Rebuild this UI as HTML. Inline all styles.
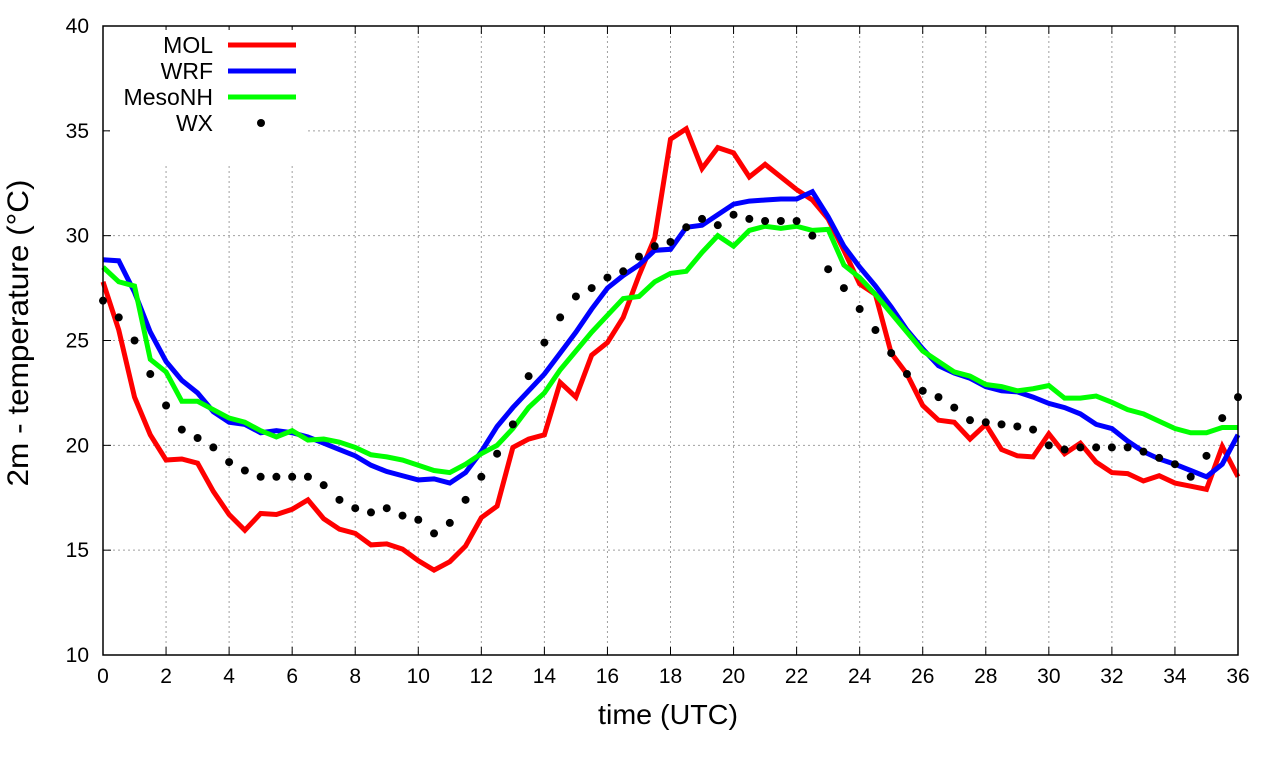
<!DOCTYPE html>
<html><head><meta charset="utf-8"><style>
body{margin:0;background:#fff;}
svg text{font-family:"Liberation Sans",sans-serif;fill:#000;}
</style></head><body>
<svg id="c" width="1280" height="760"></svg>
<script>
const mol=[27.8,25.5,22.3,20.5,19.3,19.35,19.15,17.8,16.7,15.95,16.75,16.7,16.95,17.4,16.5,16,15.8,15.25,15.3,15.05,14.5,14.05,14.45,15.2,16.55,17.1,19.9,20.3,20.5,23,22.3,24.3,24.9,26.1,28.1,29.9,34.6,35.1,33.2,34.2,33.95,32.8,33.4,32.8,32.2,31.7,30.8,29.3,27.7,27.2,24.4,23.4,21.9,21.2,21.1,20.3,21,19.8,19.5,19.45,20.55,19.6,20.1,19.2,18.7,18.65,18.3,18.55,18.2,18.05,17.9,19.95,18.5];
const wrf=[28.85,28.8,27.3,25.4,24,23.1,22.5,21.6,21.1,21.0,20.6,20.7,20.6,20.4,20.1,19.8,19.5,19.05,18.75,18.55,18.35,18.4,18.2,18.7,19.7,20.9,21.8,22.6,23.4,24.4,25.4,26.5,27.5,28.1,28.6,29.3,29.35,30.4,30.5,31,31.5,31.65,31.7,31.75,31.75,32.1,30.9,29.5,28.5,27.6,26.6,25.5,24.6,23.8,23.45,23.2,22.8,22.6,22.55,22.3,22,21.8,21.5,21,20.8,20.2,19.7,19.35,19.1,18.8,18.5,19.1,20.5];
const meso=[28.5,27.8,27.6,24.1,23.5,22.1,22.1,21.7,21.3,21.1,20.7,20.4,20.7,20.25,20.3,20.15,19.9,19.55,19.45,19.3,19.05,18.8,18.7,19.1,19.6,20,20.8,21.8,22.5,23.6,24.5,25.4,26.2,27,27.1,27.8,28.2,28.3,29.2,30,29.5,30.25,30.45,30.35,30.45,30.25,30.3,28.6,28,27.2,26.3,25.4,24.5,24,23.5,23.3,22.9,22.8,22.6,22.7,22.85,22.25,22.25,22.35,22.05,21.7,21.5,21.15,20.8,20.6,20.6,20.85,20.85];
const wx=[26.9,26.1,25,23.4,21.9,20.75,20.35,19.9,19.2,18.8,18.5,18.5,18.5,18.5,18.1,17.4,17,16.8,17,16.65,16.45,15.8,16.3,17.4,18.5,19.6,21,23.3,24.9,26.1,27.1,27.5,28,28.3,29,29.5,29.7,30.4,30.8,30.5,31,30.8,30.7,30.7,30.7,30,28.4,27.5,26.5,25.5,24.4,23.4,22.6,22.3,21.8,21.2,21.1,21,20.9,20.75,20,19.8,19.9,19.9,19.9,19.9,19.7,19.4,19.1,18.5,19.5,21.3,22.3];
const xTicks=[0,2,4,6,8,10,12,14,16,18,20,22,24,26,28,30,32,34,36];
const yTicks=[10,15,20,25,30,35,40];
const X0=103,X1=1238,Y0=655,Y1=26;
const xs=t=>X0+(X1-X0)*t/36, ys=v=>Y0-(Y0-Y1)*(v-10)/30;
const NS='http://www.w3.org/2000/svg', svg=document.getElementById('c');
function mk(tag,a,parent){const e=document.createElementNS(NS,tag);for(const k in a)e.setAttribute(k,a[k]);(parent||svg).appendChild(e);return e;}
const grid=mk('g',{});


xTicks.forEach(t=>{const x=xs(t);
 if(t>0&&t<36)mk('line',{x1:x,x2:x,y1:Y1,y2:Y0,stroke:'#a0a0a0','stroke-dasharray':'2,3'},grid);
 mk('line',{x1:x,x2:x,y1:Y0,y2:Y0-8,stroke:'#000'});mk('line',{x1:x,x2:x,y1:Y1,y2:Y1+8,stroke:'#000'});
 const tx=mk('text',{x:x,y:Y0+28,'text-anchor':'middle','font-size':'21'});tx.textContent=t;
 
 });
yTicks.forEach(v=>{const y=ys(v);
 if(v>10&&v<40)mk('line',{x1:X0,x2:X1,y1:y,y2:y,stroke:'#a0a0a0','stroke-dasharray':'2,3'},grid);
 mk('line',{x1:X0,x2:X0+8,y1:y,y2:y,stroke:'#000'});mk('line',{x1:X1,x2:X1-8,y1:y,y2:y,stroke:'#000'});
 const tx=mk('text',{x:X0-14,y:y+7,'text-anchor':'end','font-size':'21'});tx.textContent=v;
 
 });
function line(d,col,name){const p=mk('polyline',{points:d.map((v,i)=>xs(i*0.5)+','+ys(v)).join(' '),fill:'none',stroke:col,'stroke-width':5,'stroke-linejoin':'miter'});
 
 }
line(mol,'#ff0000','mol-line');line(wrf,'#0000ff','wrf-line');line(meso,'#00ff00','mesonh-line');
const dots=mk('g',{});


wx.forEach((v,i)=>mk('circle',{cx:xs(i*0.5),cy:ys(v),r:4,fill:'#000'},dots));
mk('rect',{x:X0,y:Y1,width:X1-X0,height:Y0-Y1,fill:'none',stroke:'#000','stroke-width':1.5});
const lg=mk('g',{});


mk('rect',{x:110,y:30,width:195,height:135,fill:'#fff'},lg);
[['MOL','#ff0000'],['WRF','#0000ff'],['MesoNH','#00ff00'],['WX',null]].forEach((e,i)=>{const y=45+i*26;
 const t=mk('text',{x:213,y:y+8,'text-anchor':'end','font-size':'23'},lg);t.textContent=e[0];
 
 
 if(e[1])mk('line',{x1:228,x2:296,y1:y,y2:y,stroke:e[1],'stroke-width':5},lg);else mk('circle',{cx:261,cy:y,r:4,fill:'#000'},lg);});
const xt=mk('text',{x:668,y:724,'text-anchor':'middle','font-size':'28',textLength:'140',lengthAdjust:'spacingAndGlyphs'});xt.textContent='time (UTC)';


const yt=mk('text',{x:0,y:0,'text-anchor':'middle','font-size':'30',textLength:'307',lengthAdjust:'spacingAndGlyphs',transform:'translate(28,333) rotate(-90)'});yt.textContent='2m - temperature (°C)';


</script>
</body></html>
